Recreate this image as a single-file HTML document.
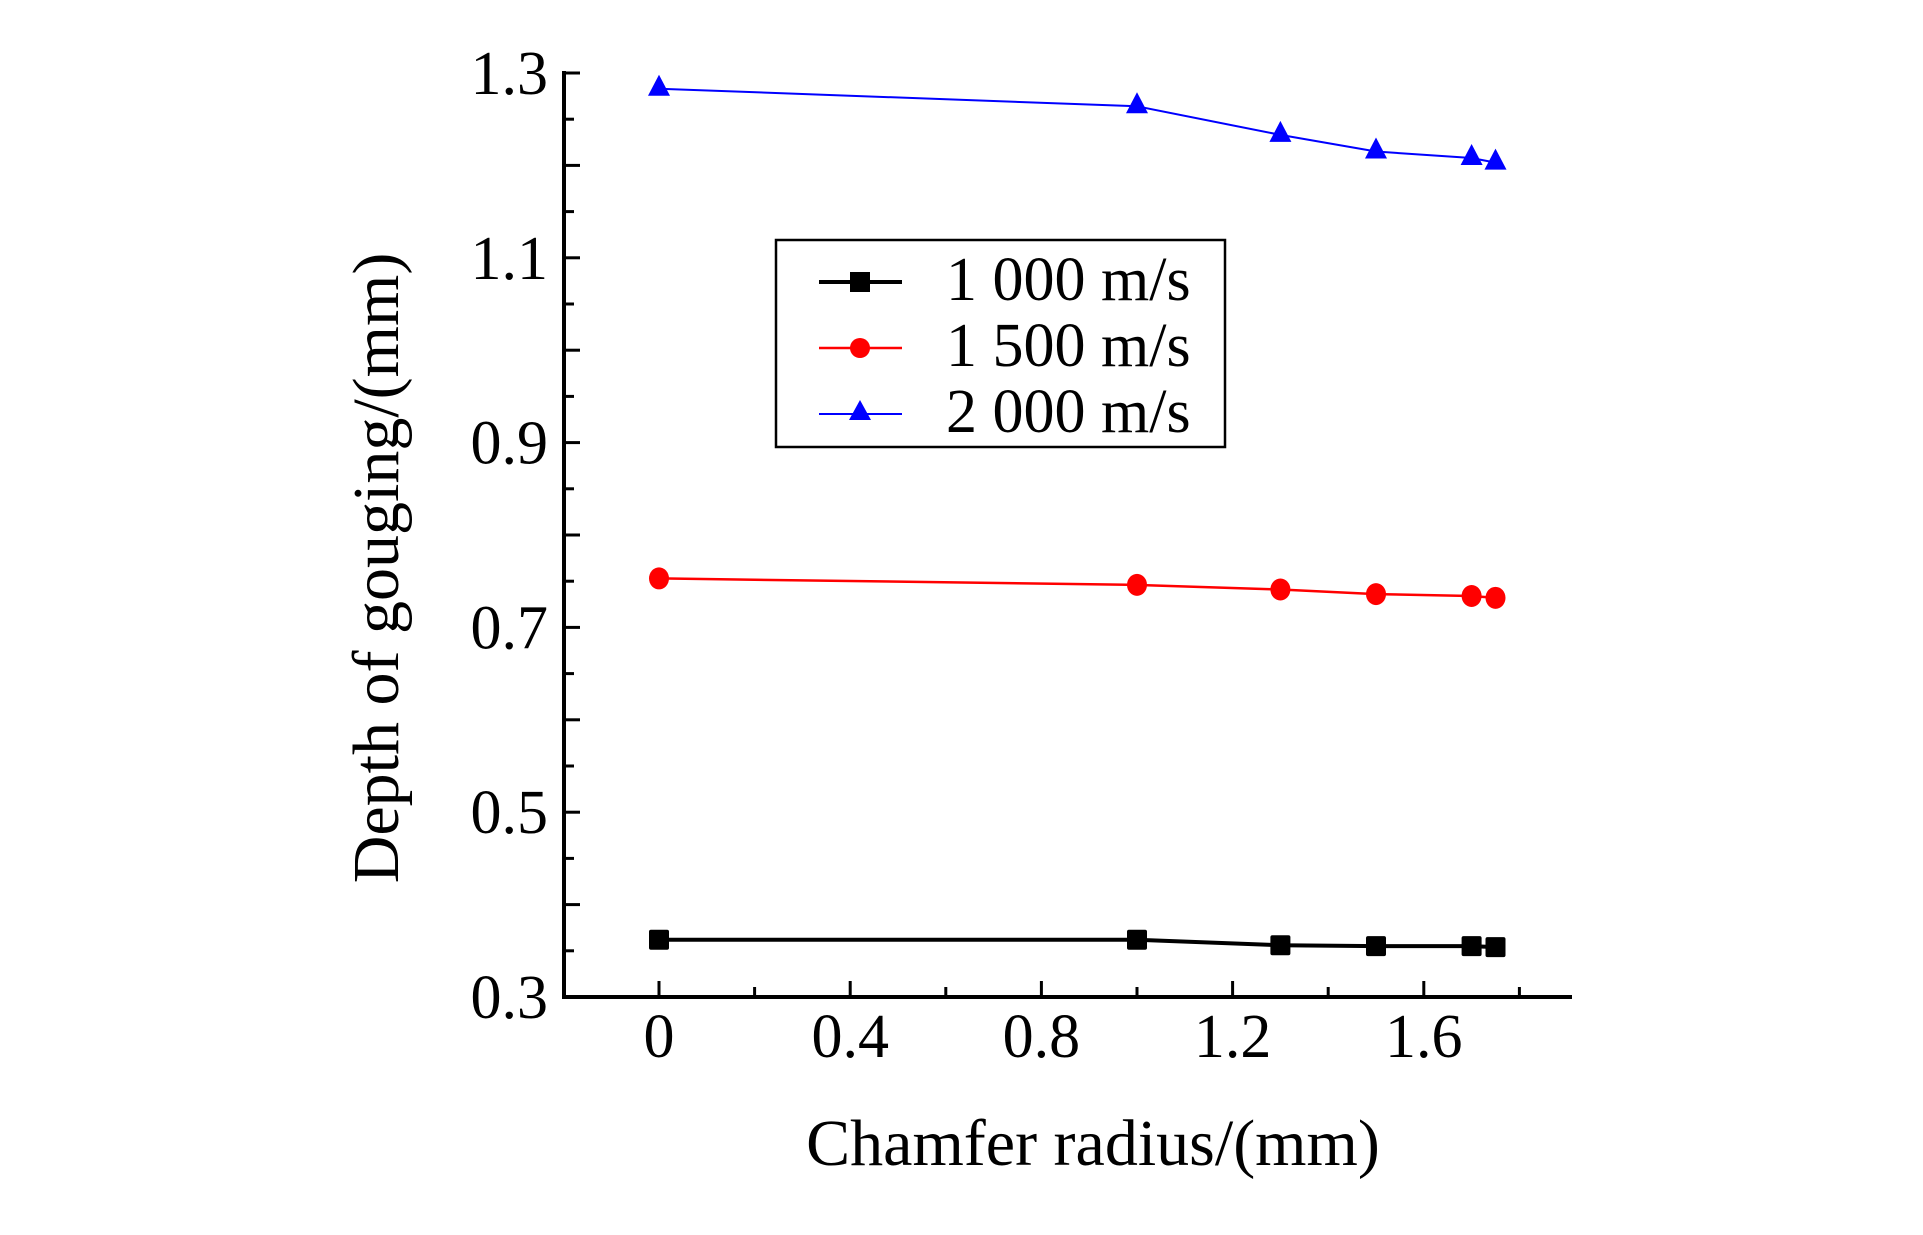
<!DOCTYPE html>
<html><head><meta charset="utf-8"><style>
html,body{margin:0;padding:0;background:#fff}
svg{display:block}
text{font-family:"Liberation Serif",serif;fill:#000}
</style></head><body>
<svg id="chart" width="1923" height="1235" viewBox="0 0 1923 1235" xmlns="http://www.w3.org/2000/svg">
<g id="axes"></g>
<g id="series"></g>
<text x="1093" y="1165" font-size="66" text-anchor="middle">Chamfer radius/(mm)</text>
<text transform="translate(398,568) rotate(-90)" font-size="66" text-anchor="middle">Depth of gouging/(mm)</text>
<g>
<rect x="776" y="240" width="449" height="207" fill="#fff" stroke="#000" stroke-width="2.5"/>
<line x1="819" y1="282" x2="902" y2="282" stroke="#000" stroke-width="4"/>
<rect x="850" y="272" width="20" height="20" fill="#000"/>
<text x="946" y="300" font-size="62">1 000 m/s</text>
<line x1="819" y1="348" x2="902" y2="348" stroke="#f00" stroke-width="2.5"/>
<circle cx="860" cy="348" r="10" fill="#f00"/>
<text x="946" y="366" font-size="62">1 500 m/s</text>
<line x1="819" y1="414" x2="902" y2="414" stroke="#00f" stroke-width="2"/>
<polygon points="860,400 871,420 849,420" fill="#00f"/>
<text x="946" y="432" font-size="62">2 000 m/s</text>
</g>
</svg>
<script>
const xValues = [0, 1.0, 1.3, 1.5, 1.7, 1.75];
const s1000 = [0.362, 0.362, 0.356, 0.355, 0.355, 0.354];
const s1500 = [0.753, 0.746, 0.741, 0.736, 0.734, 0.732];
const s2000 = [1.283, 1.264, 1.233, 1.215, 1.208, 1.203];
const xTickLabels = ["0", "0.4", "0.8", "1.2", "1.6"];
const yTickLabels = ["0.3", "0.5", "0.7", "0.9", "1.1", "1.3"];

const NS = "http://www.w3.org/2000/svg";
const X0 = 659, XPER = 478;
const Y0 = 997, YPER = 924;
function sx(v){ return X0 + v * XPER; }
function sy(v){ return Y0 - (v - 0.3) * YPER; }
function mk(tag, attrs, parent){ const e = document.createElementNS(NS, tag); for (const k in attrs) e.setAttribute(k, attrs[k]); parent.appendChild(e); return e; }

const axes = document.getElementById('axes');
let a = mk('line', {x1:564, y1:Y0, x2:1572, y2:Y0, stroke:'#000', 'stroke-width':4}, axes);


a = mk('line', {x1:564, y1:Y0+2, x2:564, y2:sy(1.3)-2, stroke:'#000', 'stroke-width':4}, axes);



for (let i = 0; i <= 9; i++) {
  const v = i * 0.2, x = sx(v), len = (i % 2 === 0) ? 16 : 10;
  const t = mk('line', {x1:x, y1:Y0, x2:x, y2:Y0 - len, stroke:'#000', 'stroke-width':3}, axes);
  
  
}
xTickLabels.forEach(lbl => {
  const t = mk('text', {x:sx(parseFloat(lbl)), y:1057, 'font-size':62, 'text-anchor':'middle'}, axes);
  t.textContent = lbl;
  
  
});
for (let i = 0; i <= 20; i++) {
  const v = 0.3 + i * 0.05, y = sy(v), len = (i % 2 === 0) ? 16 : 10;
  const t = mk('line', {x1:564, y1:y, x2:564 + len, y2:y, stroke:'#000', 'stroke-width':3}, axes);
  
  
}
yTickLabels.forEach(lbl => {
  const t = mk('text', {x:548, y:sy(parseFloat(lbl)) + 21, 'font-size':62, 'text-anchor':'end'}, axes);
  t.textContent = lbl;
  
  
});

const series = document.getElementById('series');
function drawSeries(vals, color, w, shape, name){
  const g = mk('g', {}, series);
  
  
  const pts = vals.map((v, i) => sx(xValues[i]) + ',' + sy(v)).join(' ');
  const pl = mk('polyline', {points:pts, fill:'none', stroke:color, 'stroke-width':w}, g);
  
  
  vals.forEach((v, i) => {
    const x = sx(xValues[i]), y = sy(v);
    let m;
    if (shape === 'square') m = mk('rect', {x:x-10, y:y-10, width:20, height:20, rx:2, fill:color}, g);
    else if (shape === 'circle') m = mk('ellipse', {cx:x, cy:y, rx:10, ry:11, fill:color}, g);
    else m = mk('polygon', {points:`${x},${y-14} ${x+11},${y+7} ${x-11},${y+7}`, fill:color}, g);
    
    
  });
}
drawSeries(s1000, '#000', 4, 'square', '1000');
drawSeries(s1500, '#f00', 2.5, 'circle', '1500');
drawSeries(s2000, '#00f', 2, 'triangle', '2000');
</script>
</body></html>
